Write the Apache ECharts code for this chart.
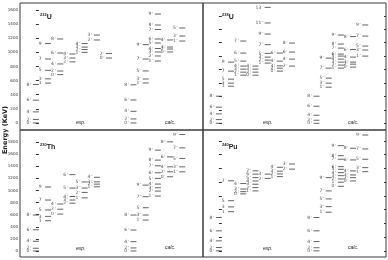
<!DOCTYPE html>
<html>
<head>
<meta charset="utf-8">
<script src="https://cdn.jsdelivr.net/npm/echarts@6/dist/echarts.min.js"></script>
<style>
  html, body { margin: 0; padding: 0; background: #fff; }
  #main { width: 388px; height: 260px; }
</style>
</head>
<body>
<div id="main"></div>
<script>
// levels: [column, energy (keV), spin-parity]
// columns 0..6 = exp., 8..12 = calc.
const u232Exp = [
  [0, 0, '0+'], [0, 50, '2+'], [0, 157, '4+'], [0, 323, '6+'], [0, 545, '8+'],
  [1, 565, '1-'], [1, 625, '3-'], [1, 746, '5-'], [1, 906, '7-'], [1, 1125, '9-'],
  [2, 685, '0+'], [2, 736, '2+'], [2, 836, '4+'], [2, 991, '6+'], [2, 1190, '8+'],
  [3, 866, '2+'], [3, 920, '3+'], [3, 977, '4+'],
  [4, 1000, '1-'], [4, 1040, '2-'], [4, 1075, '3-'], [4, 1125, '4-'],
  [5, 1176, '2+'], [5, 1246, '3+'],
  [6, 920, '0+'], [6, 985, '2+']
];
const u232Calc = [
  [8, 0, '0+'], [8, 57, '2+'], [8, 165, '4+'], [8, 326, '6+'], [8, 540, '8+'],
  [9, 567, '1-'], [9, 623, '3-'], [9, 737, '5-'], [9, 906, '7-'], [9, 1110, '9-'],
  [10, 878, '1-'], [10, 949, '2+'], [10, 1006, '3+'], [10, 1055, '4+'], [10, 1133, '5+'],
  [10, 1190, '6+'], [10, 1324, '7+'], [10, 1388, '8+'], [10, 1544, '9+'],
  [11, 1006, '0+'], [11, 1048, '2+'], [11, 1076, '3+'], [11, 1176, '4+'],
  [12, 1161, '1-'], [12, 1232, '3-'], [12, 1346, '5-']
];
const u238Exp = [
  [0, 0, '0+'], [0, 55, '2+'], [0, 140, '4+'], [0, 240, '6+'], [0, 403, '8+'],
  [1, 552, '1-'], [1, 597, '3-'], [1, 657, '5-'], [1, 776, '7-'], [1, 910, '9-'],
  [2, 716, '1-'], [2, 761, '2+'], [2, 806, '3+'], [2, 851, '4+'], [2, 925, '5+'], [2, 1045, '6+'], [2, 1224, '7+'],
  [3, 716, '0+'], [3, 761, '2+'], [3, 806, '3+'], [3, 851, '4+'],
  [4, 896, '1-'], [4, 940, '2-'], [4, 985, '3-'], [4, 1040, '5-'], [4, 1170, '7-'],
  [4, 1328, '9-'], [4, 1493, '11-'], [4, 1725, '13-'],
  [5, 776, '0+'], [5, 820, '2+'], [5, 855, '3+'], [5, 925, '4+'], [5, 1045, '6+'],
  [6, 851, '2+'], [6, 955, '4+'], [6, 1060, '6+'], [6, 1194, '8+']
];
const u238Calc = [
  [8, 0, '0+'], [8, 45, '2+'], [8, 120, '4+'], [8, 254, '6+'], [8, 403, '8+'],
  [9, 537, '1-'], [9, 597, '3-'], [9, 672, '5-'], [9, 821, '7-'], [9, 970, '9-'],
  [10, 821, '1-'], [10, 866, '2+'], [10, 910, '3+'], [10, 955, '4+'], [10, 1000, '5+'],
  [10, 1030, '6+'], [10, 1119, '7+'], [10, 1179, '8+'], [10, 1313, '9+'],
  [11, 836, '0+'], [11, 880, '2+'], [11, 910, '3+'], [11, 985, '4+'], [11, 1097, '6+'], [11, 1290, '8+'],
  [12, 1000, '1-'], [12, 1090, '3-'], [12, 1149, '5-'], [12, 1298, '7-'], [12, 1463, '9-']
];
const th230Exp = [
  [0, 0, '0+'], [0, 45, '2+'], [0, 160, '4+'], [0, 350, '6+'], [0, 594, '8+'],
  [1, 500, '1-'], [1, 572, '3-'], [1, 677, '5-'], [1, 842, '7-'], [1, 1058, '9-'],
  [2, 610, '0+'], [2, 690, '2+'], [2, 776, '4+'],
  [3, 790, '2+'], [3, 842, '3+'], [3, 900, '4+'], [3, 1040, '5+'], [3, 1262, '6+'],
  [4, 878, '1-'], [4, 968, '2-'], [4, 1040, '3-'], [4, 1141, '5-'],
  [5, 1061, '1-'], [5, 1105, '2-'], [5, 1143, '3-'], [5, 1218, '4-']
];
const th230Calc = [
  [8, 0, '0+'], [8, 50, '2+'], [8, 154, '4+'], [8, 346, '6+'], [8, 594, '8+'],
  [9, 511, '1-'], [9, 594, '3-'], [9, 715, '5-'], [9, 897, '7-'], [9, 1089, '9-'],
  [10, 908, '1-'], [10, 990, '2+'], [10, 1045, '3+'], [10, 1106, '4+'], [10, 1200, '5+'],
  [10, 1293, '6+'], [10, 1408, '7+'], [10, 1502, '8+'], [10, 1667, '9+'],
  [11, 1227, '0+'], [11, 1309, '2+'], [11, 1391, '4+'], [11, 1556, '6+'], [11, 1804, '8+'],
  [12, 1309, '1-'], [12, 1391, '3-'], [12, 1530, '5-'], [12, 1705, '7-'], [12, 1925, '9-']
];
const pu240Exp = [
  [0, 0, '0+'], [0, 48, '2+'], [0, 145, '4+'], [0, 291, '6+'], [0, 485, '8+'],
  [1, 570, '1-'], [1, 640, '3-'], [1, 730, '5-'], [1, 1020, '7-'],
  [2, 830, '0+'], [2, 862, '2+'], [2, 900, '3+'], [2, 980, '4+'],
  [3, 873, '1-'], [3, 921, '2-'], [3, 970, '3-'], [3, 1018, '4-'], [3, 1066, '5-'], [3, 1117, '6-'], [3, 1165, '7-'],
  [4, 1055, '2+'], [4, 1117, '3+'],
  [5, 1081, '1-'], [5, 1120, '2-'], [5, 1160, '3-'], [5, 1217, '4-'],
  [6, 1190, '2+'], [6, 1265, '3+']
];
const pu240Calc = [
  [8, 0, '0+'], [8, 45, '2+'], [8, 135, '4+'], [8, 291, '6+'], [8, 485, '8+'],
  [9, 563, '1-'], [9, 644, '3-'], [9, 756, '5-'], [9, 873, '7-'], [9, 1066, '9-'],
  [10, 940, '0+'], [10, 999, '1-'], [10, 1047, '2+'], [10, 1095, '3+'], [10, 1139, '4+'],
  [10, 1188, '5+'], [10, 1226, '6+'], [10, 1334, '7+'], [10, 1386, '8+'], [10, 1532, '9+'],
  [11, 1018, '0+'], [11, 1066, '2+'], [11, 1105, '3+'], [11, 1164, '4+'], [11, 1324, '6+'], [11, 1494, '8+'],
  [12, 1153, '1-'], [12, 1212, '3-'], [12, 1334, '5-'], [12, 1484, '7-'], [12, 1687, '9-']
];

const nuclei = [
  { mass: '232', sym: 'U', exp: u232Exp, calc: u232Calc, yMin: -100, yMax: 1700, ticks: [0, 200, 400, 600, 800, 1000, 1200, 1400, 1600] },
  { mass: '238', sym: 'U', exp: u238Exp, calc: u238Calc, yMin: -100, yMax: 1790, ticks: [0, 200, 400, 600, 800, 1000, 1200, 1400, 1600] },
  { mass: '230', sym: 'Th', exp: th230Exp, calc: th230Calc, yMin: -100, yMax: 2000, ticks: [0, 200, 400, 600, 800, 1000, 1200, 1400, 1600, 1800] },
  { mass: '240', sym: 'Pu', exp: pu240Exp, calc: pu240Calc, yMin: -90, yMax: 1760, ticks: [0, 200, 400, 600, 800, 1000, 1200, 1400, 1600] }
];

const boxes = [
  { left: 20, top: 3 }, { left: 203, top: 3 },
  { left: 20, top: 130 }, { left: 203, top: 130 }
];
const W = 183, H = 127;

function spin(s) {
  return s.replace('+', '\u207A').replace('-', '\u207B');
}

const grid = [], xAxis = [], yAxis = [], series = [], graphic = [];
nuclei.forEach(function (n, i) {
  const b = boxes[i];
  const isLeft = i % 2 === 0;
  grid.push({ left: b.left, top: b.top, width: W, height: H, show: true, borderColor: '#3a3a3a', borderWidth: 1 });
  xAxis.push({ gridIndex: i, type: 'value', min: -1.3, max: 13.7, show: false });
  yAxis.push({
    gridIndex: i, type: 'value', min: n.yMin, max: n.yMax,
    axisLine: { show: false },
    splitLine: { show: false },
    axisTick: { show: true, inside: true, length: 3, customValues: n.ticks, lineStyle: { color: '#333' } },
    axisLabel: {
      show: isLeft, customValues: n.ticks, fontSize: 4, color: '#333', margin: 2, fontFamily: 'DejaVu Sans',
      formatter: function (v) { return String(v); }
    }
  });
  series.push({
    type: 'scatter',
    xAxisIndex: i, yAxisIndex: i,
    data: n.exp.concat(n.calc),
    symbol: 'rect',
    symbolSize: [6, 1],
    itemStyle: { color: '#3c3c3c' },
    silent: true,
    animation: false,
    label: {
      show: true, position: 'left', distance: 1,
      fontSize: 4.5, color: '#222', fontFamily: 'DejaVu Sans',
      formatter: function (p) { return spin(p.data[2]); }
    }
  });
  graphic.push({
    type: 'text', left: b.left + (i % 2 ? 19 : 20), top: b.top + (i < 2 ? 10 : 13),
    style: {
      text: '{a|' + n.mass + '}{b|' + n.sym + '}',
      rich: {
        a: { fontSize: 4, fontWeight: 'bold', fill: '#222', verticalAlign: 'top', padding: [0, 0, 4, 0] },
        b: { fontSize: 7, fontWeight: 'bold', fill: '#222' }
      }
    }
  });
  graphic.push({
    type: 'text', left: b.left + (i % 2 ? 60 : 56), top: b.top + (i < 2 ? 117 : 116),
    style: { text: 'exp.', fontSize: 5, fontStyle: 'italic', fill: '#222' }
  });
  graphic.push({
    type: 'text', left: b.left + 145, top: b.top + (i < 2 ? 117 : 115),
    style: { text: 'calc.', fontSize: 5, fontStyle: 'italic', fill: '#222' }
  });
});

// tick marks on the right edge of the right-hand panels
[1, 3].forEach(function (i) {
  yAxis.push({
    gridIndex: i, type: 'value', position: 'right', min: nuclei[i].yMin, max: nuclei[i].yMax,
    axisLine: { show: false }, splitLine: { show: false }, axisLabel: { show: false },
    axisTick: { show: true, inside: true, length: 2, customValues: nuclei[i].ticks, lineStyle: { color: '#333' } }
  });
});

graphic.push({
  type: 'text', x: 5, y: 130, rotation: Math.PI / 2,
  style: { text: 'Energy (KeV)', fontSize: 6.5, fontWeight: 'bold', fill: '#222', align: 'center', verticalAlign: 'middle', fontFamily: 'DejaVu Sans' }
});

const chart = echarts.init(document.getElementById('main'));
chart.setOption({
  backgroundColor: '#fff',
  animation: false,
  grid: grid,
  xAxis: xAxis,
  yAxis: yAxis,
  series: series,
  graphic: graphic
});
window.addEventListener('resize', function () { chart.resize(); });
</script>
</body>
</html>
